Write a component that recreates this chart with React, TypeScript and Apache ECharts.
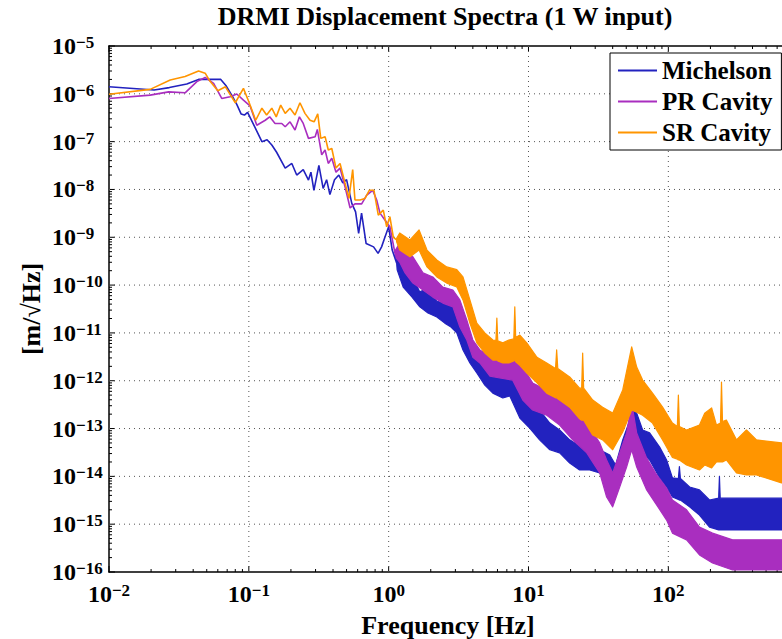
import React, { useEffect, useRef } from 'react';
import * as echarts from 'echarts';

const FONT = '"Liberation Serif", "Times New Roman", Times, serif';

const chartTitle = 'DRMI Displacement Spectra (1 W input)';
const xName = 'Frequency [Hz]';
const yName = '[m/√Hz]';
const seriesNames = ['Michelson', 'PR Cavity', 'SR Cavity'];
const seriesColors = ['#2222BF', '#A92EBF', '#FF9500'];

const xRange = [0.01, 650];
const yRange = [1e-16, 1e-5];
const xDecades = [0.01, 0.1, 1, 10, 100];
const yDecades = [1e-16, 1e-15, 1e-14, 1e-13, 1e-12, 1e-11, 1e-10, 1e-9, 1e-8, 1e-7, 1e-6, 1e-5];
const minorSteps = [2, 3, 4, 5, 6, 7, 8, 9];

// [frequency Hz, amplitude m/rtHz] - clean low-frequency parts
const michelsonLine = [
  [0.01, 1.41e-6], [0.021, 1.2e-6], [0.027, 1.35e-6], [0.036, 1.6e-6], [0.0437, 2.0e-6],
  [0.063, 2.0e-6], [0.069, 1.45e-6], [0.076, 9.0e-7], [0.082, 6.0e-7], [0.088, 3.8e-7],
  [0.093, 3.6e-7], [0.098, 4.1e-7], [0.108, 2.3e-7], [0.124, 1.0e-7], [0.135, 1.1e-7],
  [0.146, 8.5e-8], [0.158, 6.0e-8], [0.182, 2.8e-8], [0.203, 3.5e-8], [0.22, 2.0e-8],
  [0.245, 2.6e-8], [0.267, 1.57e-8], [0.278, 2.3e-8], [0.292, 9.6e-9], [0.317, 3.2e-8],
  [0.34, 1.05e-8], [0.36, 1.6e-8], [0.38, 7.8e-9], [0.41, 1.6e-8], [0.44, 2.0e-8],
  [0.47, 1.37e-8], [0.5, 1.6e-8], [0.545, 5.1e-9], [0.58, 3.4e-9], [0.61, 1.2e-9],
  [0.64, 3.2e-9], [0.69, 7.4e-10], [0.78, 6.3e-10], [0.84, 4.6e-10], [0.89, 6.3e-10],
  [0.94, 1.0e-9], [1.0, 1.66e-9], [1.06, 5.4e-10], [1.14, 2.9e-10],
];
const prLine = [
  [0.01, 8.0e-7], [0.0197, 9.4e-7], [0.0267, 1.1e-6], [0.035, 1.05e-6], [0.0425, 1.8e-6],
  [0.0487, 2.2e-6], [0.056, 1.66e-6], [0.064, 8.0e-7], [0.0735, 8.7e-7], [0.082, 9.9e-7],
  [0.0915, 7.4e-7], [0.102, 5.6e-7], [0.114, 2.2e-7], [0.131, 2.8e-7], [0.141, 3.3e-7],
  [0.154, 2.4e-7], [0.172, 2.4e-7], [0.182, 2.05e-7], [0.197, 2.6e-7], [0.214, 1.75e-7],
  [0.23, 3.3e-7], [0.245, 2.4e-7], [0.267, 1.17e-7], [0.298, 1.27e-7], [0.309, 1.8e-7],
  [0.332, 5.3e-8], [0.351, 6.7e-8], [0.37, 3.5e-8], [0.392, 4.5e-8], [0.42, 2.3e-8],
  [0.449, 2.8e-8], [0.487, 1.15e-8], [0.53, 4.1e-9], [0.574, 5.0e-9], [0.641, 5.0e-9],
  [0.697, 7.6e-9], [0.769, 9.6e-9], [0.821, 6.0e-9], [0.867, 3.2e-9], [0.94, 2.3e-9],
  [1.02, 1.66e-9], [1.11, 4.6e-10],
];
const srLine = [
  [0.01, 9.8e-7], [0.0197, 1.24e-6], [0.0274, 1.95e-6], [0.035, 2.3e-6], [0.0437, 3.0e-6],
  [0.0487, 2.7e-6], [0.053, 1.8e-6], [0.06, 1.16e-6], [0.068, 1.4e-6], [0.08, 6.5e-7],
  [0.0915, 1.3e-6], [0.1, 6.8e-7], [0.112, 2.8e-7], [0.124, 5.0e-7], [0.134, 3.6e-7],
  [0.146, 5.0e-7], [0.157, 3.3e-7], [0.169, 5.8e-7], [0.182, 3.9e-7], [0.197, 5.0e-7],
  [0.214, 3.6e-7], [0.232, 6.5e-7], [0.252, 3.9e-7], [0.274, 2.8e-7], [0.293, 2.6e-7],
  [0.311, 3.8e-7], [0.327, 1.17e-7], [0.351, 1.27e-7], [0.37, 6.7e-8], [0.392, 7.2e-8],
  [0.42, 2.8e-8], [0.449, 3.5e-8], [0.487, 1.37e-8], [0.52, 6.5e-9], [0.553, 2.6e-8],
  [0.574, 6.0e-9], [0.624, 6.0e-9], [0.677, 6.5e-9], [0.727, 9.6e-9], [0.785, 9.6e-9],
  [0.843, 2.9e-9], [0.915, 3.7e-9], [0.968, 1.66e-9], [1.02, 2.7e-9], [1.08, 1.0e-9],
  [1.14, 8.8e-10],
];

// [frequency Hz, lower envelope, upper envelope] - noisy high-frequency parts
const michelsonBand = [
  [1.14, 2.9e-10, 3.2e-10], [1.15, 2.1e-10, 4.3e-10], [1.27, 9.1e-11, 2.5e-10],
  [1.47, 5.6e-11, 1.55e-10], [1.67, 3.5e-11, 7.2e-11], [1.91, 2.6e-11, 8.7e-11],
  [2.21, 2.15e-11, 4.6e-11], [2.52, 1.6e-11, 4.2e-11], [2.79, 1.33e-11, 3.8e-11],
  [3.07, 1.0e-11, 3.0e-11], [3.4, 4.4e-12, 1.6e-11], [3.81, 2.35e-12, 7.1e-12],
  [4.27, 1.45e-12, 3.8e-12], [4.87, 8.1e-13, 2.5e-12], [5.56, 5.5e-13, 1.67e-12],
  [6.55, 4.35e-13, 1.14e-12], [7.35, 4.8e-13, 2.0e-12], [8.67, 1.66e-13, 7.0e-13],
  [10.2, 1.02e-13, 3.8e-13], [12.0, 5.8e-14, 2.44e-13], [14.2, 3.6e-14, 1.3e-13],
  [16.7, 3.1e-14, 9.3e-14], [19.7, 1.9e-14, 5.8e-14], [23.2, 1.36e-14, 4.3e-14],
  [27.4, 1.36e-14, 5.0e-14], [32.3, 1.18e-14, 3.6e-14], [38.1, 6.0e-15, 2.8e-14],
  [42.0, 5.2e-15, 1.73e-14], [47.2, 1.36e-14, 5.8e-14], [53.0, 3.1e-14, 1.5e-13],
  [54.7, 5.8e-14, 5.0e-13], [59.4, 4.1e-14, 2.1e-13], [65.5, 3.1e-14, 9.3e-14],
  [73.5, 2.2e-14, 8.1e-14], [86.7, 9.3e-15, 4.1e-14], [97.2, 6.0e-15, 2.2e-14],
  [107, 3.7e-15, 9.3e-15], [118, 3.3e-15, 9.0e-15], [120, 3.2e-15, 1.6e-14],
  [122, 3.2e-15, 9.0e-15], [142, 2.3e-15, 6.0e-15], [167, 1.55e-15, 5.2e-15],
  [197, 8.7e-16, 3.2e-15], [229, 7.6e-16, 3.5e-15], [232, 7.6e-16, 1.0e-14],
  [235, 7.6e-16, 3.5e-15], [381, 7.6e-16, 3.5e-15], [736, 7.6e-16, 3.5e-15],
];
const prBand = [
  [1.11, 4.0e-10, 5.2e-10], [1.2, 3.0e-10, 7.6e-10], [1.31, 1.8e-10, 5.4e-10],
  [1.49, 1.1e-10, 3.9e-10], [1.76, 7.9e-11, 1.8e-10], [2.07, 5.6e-11, 1.48e-10],
  [2.44, 4.2e-11, 9.1e-11], [2.88, 3.5e-11, 7.9e-11], [3.23, 1.33e-11, 4.9e-11],
  [3.62, 7.1e-12, 1.86e-11], [4.0, 3.1e-12, 7.1e-12], [4.49, 2.35e-12, 4.4e-12],
  [5.3, 1.25e-12, 3.3e-12], [6.23, 1.14e-12, 2.7e-12], [7.71, 1.03e-12, 5.1e-12],
  [9.1, 3.95e-13, 1.93e-12], [10.7, 2.44e-13, 9.0e-13], [13.5, 1.9e-13, 6.4e-13],
  [16.7, 1.18e-13, 4.35e-13], [20.7, 5.8e-14, 2.44e-13], [26.1, 3.1e-14, 1.3e-13],
  [32.3, 1.18e-14, 5.0e-14], [36.2, 3.7e-15, 2.2e-14], [40, 2.3e-15, 1.18e-14],
  [44.9, 6.0e-15, 3.1e-14], [50.3, 1.57e-14, 8.1e-14], [54.7, 3.6e-14, 3.4e-13],
  [59.4, 1.57e-14, 8.1e-14], [70, 5.2e-15, 2.4e-14], [82.7, 2.5e-15, 1.07e-14],
  [97.2, 1.22e-15, 5.7e-15], [107, 6.5e-16, 3.2e-15], [135, 4.7e-16, 2.0e-15],
  [167, 2.27e-16, 8.7e-16], [207, 1.54e-16, 6.5e-16], [288, 1.1e-16, 4.7e-16],
  [736, 1.1e-16, 4.7e-16],
];
const srBand = [
  [1.14, 8.0e-10, 9.5e-10], [1.2, 5.4e-10, 1.23e-9], [1.42, 3.9e-10, 8.8e-10],
  [1.65, 5.4e-10, 1.42e-9], [1.88, 2.4e-10, 5.4e-10], [2.21, 1.48e-10, 3.35e-10],
  [2.6, 1.1e-10, 2.4e-10], [3.07, 9.1e-11, 2.1e-10], [3.4, 4.9e-11, 1.48e-10],
  [3.81, 1.6e-11, 4.9e-11], [4.27, 6.2e-12, 1.6e-11], [4.87, 3.8e-12, 1.0e-11],
  [5.56, 2.7e-12, 7.1e-12], [5.85, 2.7e-12, 7.0e-12], [5.94, 2.7e-12, 2.05e-11],
  [6.03, 2.6e-12, 6.8e-12], [6.55, 2.35e-12, 6.2e-12], [7.23, 2.35e-12, 7.1e-12],
  [7.85, 2.6e-12, 7.5e-12], [7.98, 2.7e-12, 3.5e-11], [8.1, 2.5e-12, 8.0e-12],
  [8.67, 2.1e-12, 9.0e-12], [9.72, 1.45e-12, 6.2e-12], [11.5, 9.0e-13, 3.1e-12],
  [13.5, 5.5e-13, 2.35e-12], [15.6, 4.4e-13, 1.8e-12], [15.9, 4.4e-13, 4.4e-12],
  [16.2, 4.2e-13, 1.8e-12], [19.7, 2.8e-13, 1.2e-12], [23.2, 1.6e-13, 7.0e-13],
  [24.0, 1.5e-13, 7.0e-13], [24.4, 1.5e-13, 3.8e-12], [24.8, 1.5e-13, 7.0e-13],
  [28.8, 7.3e-14, 3.95e-13], [33.9, 5.8e-14, 2.8e-13], [40, 3.6e-14, 2.1e-13],
  [47.2, 8.5e-14, 6.4e-13], [54.7, 2.44e-13, 5.1e-12], [59.4, 2.2e-13, 1.93e-12],
  [65.5, 1.9e-13, 1.03e-12], [77.1, 1.3e-13, 5.5e-13], [91, 5.8e-14, 2.8e-13],
  [107, 2.5e-14, 1.3e-13], [116, 2.3e-14, 1.1e-13], [118, 2.2e-14, 5.0e-13],
  [120, 2.2e-14, 1.1e-13], [135, 1.73e-14, 9.3e-14], [167, 1.36e-14, 1.18e-13],
  [182, 1.73e-14, 2.1e-13], [204, 1.5e-14, 2.7e-13], [221, 2.0e-14, 1.18e-13],
  [236, 2.0e-14, 1.3e-13], [240, 2.0e-14, 9.4e-13], [244, 2.0e-14, 1.4e-13],
  [260, 2.2e-14, 1.5e-13], [307, 1.18e-14, 5.8e-14], [362, 1.07e-14, 9.3e-14],
  [427, 1.07e-14, 5.8e-14], [645, 7.3e-15, 5.0e-14], [736, 7.3e-15, 5.0e-14],
];

const lines = [michelsonLine, prLine, srLine];
const bands = [michelsonBand, prBand, srBand];

function expText(v: number): string {
  const e = Math.log10(v);
  const r = Math.round(e);
  if (Math.abs(e - r) > 1e-4) return '';
  return `{b|10}{s|${r < 0 ? '−' : ''}${Math.abs(r)}}`;
}

const xRich = {
  b: { fontFamily: FONT, fontWeight: 'bold', fontSize: 24, lineHeight: 24, verticalAlign: 'bottom', color: '#000' },
  s: { fontFamily: FONT, fontWeight: 'bold', fontSize: 17, lineHeight: 17, verticalAlign: 'top', padding: [0, 0, 13, 0], color: '#000' },
};
const yRich = {
  b: { fontFamily: FONT, fontWeight: 'bold', fontSize: 24, lineHeight: 24, verticalAlign: 'middle', fill: '#000' },
  s: { fontFamily: FONT, fontWeight: 'bold', fontSize: 17, lineHeight: 17, verticalAlign: 'top', padding: [0, 0, 28, 0], fill: '#000' },
};

export default function App() {
  const ref = useRef<HTMLDivElement>(null);
  useEffect(() => {
    if (!ref.current) return;
    const chart = echarts.init(ref.current, null, { renderer: 'svg' });

    const xTicks: number[][] = [];
    xDecades.forEach((d) => {
      xTicks.push([d, yRange[0], 1]);
      minorSteps.forEach((m) => { if (d * m < xRange[1]) xTicks.push([d * m, yRange[0], 0]); });
    });
    const yTicks: number[][] = [];
    yDecades.forEach((d) => {
      yTicks.push([xRange[0], d, 1]);
      if (d < yRange[1] * 0.99) minorSteps.forEach((m) => yTicks.push([xRange[0], d * m, 0]));
    });

    const gridDash = { stroke: '#555', lineWidth: 1, lineDash: [1, 4] };

    const series: any[] = [
      {
        type: 'custom', name: 'yGrid', coordinateSystem: 'cartesian2d', silent: true,
        data: yTicks, encode: { x: 0, y: 1 },
        renderItem: (params: any, api: any) => {
          const v = api.value(1) as number;
          const major = api.value(2) === 1;
          const cs = params.coordSys;
          const py = api.coord([xRange[0], v])[1];
          const kids: any[] = [
            { type: 'line', shape: { x1: cs.x, y1: py, x2: cs.x + (major ? 6 : 3), y2: py }, style: { stroke: '#000', lineWidth: 1 } },
          ];
          if (major) {
            if (v > yRange[0] * 1.01 && v < yRange[1] / 1.01) {
              kids.push({ type: 'line', shape: { x1: cs.x, y1: py, x2: cs.x + cs.width, y2: py }, style: gridDash });
            }
            kids.push({
              type: 'text', x: cs.x - 57, y: py,
              style: { text: expText(v), rich: yRich, align: 'left', verticalAlign: 'middle', fill: '#000', font: `bold 24px ${FONT}` },
            });
          }
          return { type: 'group', children: kids };
        },
      },
      {
        type: 'custom', name: 'xGrid', coordinateSystem: 'cartesian2d', silent: true,
        data: xTicks, encode: { x: 0, y: 1 },
        renderItem: (params: any, api: any) => {
          const f = api.value(0) as number;
          const major = api.value(2) === 1;
          const cs = params.coordSys;
          const px = api.coord([f, yRange[0]])[0];
          const len = major ? 6 : 3;
          const bottom = cs.y + cs.height;
          const kids: any[] = [
            { type: 'line', shape: { x1: px, y1: bottom, x2: px, y2: bottom - len }, style: { stroke: '#000', lineWidth: 1 } },
            { type: 'line', shape: { x1: px, y1: cs.y, x2: px, y2: cs.y + len }, style: { stroke: '#000', lineWidth: 1 } },
          ];
          if (major && f > xRange[0] * 1.01) {
            kids.push({ type: 'line', shape: { x1: px, y1: cs.y, x2: px, y2: bottom }, style: gridDash });
          }
          return { type: 'group', children: kids };
        },
      },
    ];

    seriesNames.forEach((name, i) => {
      series.push({
        type: 'line', name, data: lines[i], showSymbol: false, symbol: 'none',
        lineStyle: { color: seriesColors[i], width: 1.6 }, itemStyle: { color: seriesColors[i] },
        emphasis: { disabled: true },
      });
    });

    seriesNames.forEach((name, i) => {
      const band = bands[i];
      const color = seriesColors[i];
      series.push({
        type: 'custom', name, coordinateSystem: 'cartesian2d', silent: true,
        data: band, encode: { x: 0, y: [1, 2] }, itemStyle: { color },
        renderItem: (params: any, api: any) => {
          if (params.dataIndex !== 0) return null;
          const cs = params.coordSys;
          const top = band.map((d) => api.coord([d[0], d[2]]));
          const bot = band.slice().reverse().map((d) => api.coord([d[0], d[1]]));
          return {
            type: 'polygon',
            shape: { points: top.concat(bot) },
            style: { fill: color, stroke: color, lineWidth: 1.2, lineJoin: 'round' },
            clipPath: { type: 'rect', shape: { x: cs.x, y: cs.y, width: cs.width, height: cs.height } },
          };
        },
      });
    });

    const axisLineStyle = { color: '#000', width: 1.5 };

    chart.setOption({
      animation: false,
      backgroundColor: '#fff',
      grid: { left: 109, right: 0, top: 46, bottom: 67, containLabel: false, outerBoundsMode: 'none' },
      xAxis: [
        {
          type: 'log', logBase: 10, min: xRange[0], max: xRange[1], position: 'bottom',
          axisLine: { show: true, onZero: false, lineStyle: axisLineStyle },
          axisTick: { show: false }, minorTick: { show: false }, splitLine: { show: false },
          axisLabel: { show: true, margin: 10, formatter: (v: number) => expText(v), rich: xRich, hideOverlap: false },
        },
        {
          type: 'log', logBase: 10, min: xRange[0], max: xRange[1], position: 'top',
          axisLine: { show: true, onZero: false, lineStyle: axisLineStyle },
          axisTick: { show: false }, axisLabel: { show: false }, splitLine: { show: false },
        },
      ],
      yAxis: {
        type: 'log', logBase: 10, min: yRange[0], max: yRange[1],
        axisLine: { show: true, onZero: false, lineStyle: axisLineStyle },
        axisTick: { show: false }, axisLabel: { show: false }, splitLine: { show: false },
      },
      legend: {
        data: seriesNames, orient: 'vertical', left: 610, top: 53,
        padding: [5, 9, 5, 8], itemGap: 6, itemWidth: 39, itemHeight: 2, icon: 'rect',
        itemStyle: { borderWidth: 0 },
        textStyle: { fontFamily: FONT, fontWeight: 'bold', fontSize: 25, lineHeight: 25, color: '#000' },
        borderColor: '#000', borderWidth: 1, borderRadius: 0, backgroundColor: '#fff',
        selectedMode: false,
      },
      graphic: [
        {
          type: 'text', x: 445, y: 16, silent: true,
          style: { text: chartTitle, align: 'center', verticalAlign: 'middle', textAlign: 'center', textVerticalAlign: 'middle', font: `bold 26px ${FONT}`, fill: '#000' },
        },
        {
          type: 'text', x: 448, y: 625, silent: true,
          style: { text: xName, align: 'center', verticalAlign: 'middle', textAlign: 'center', textVerticalAlign: 'middle', font: `bold 26px ${FONT}`, fill: '#000' },
        },
        {
          type: 'text', x: 31, y: 309, rotation: Math.PI / 2, silent: true,
          style: { text: yName, align: 'center', verticalAlign: 'middle', textAlign: 'center', textVerticalAlign: 'middle', font: `bold 26px ${FONT}`, fill: '#000' },
        },
      ],
      series,
    });

    return () => chart.dispose();
  }, []);

  return (
    <div
      ref={ref}
      style={{ position: 'fixed', left: 0, top: 0, width: 782, height: 639, background: '#fff' }}
    />
  );
}
